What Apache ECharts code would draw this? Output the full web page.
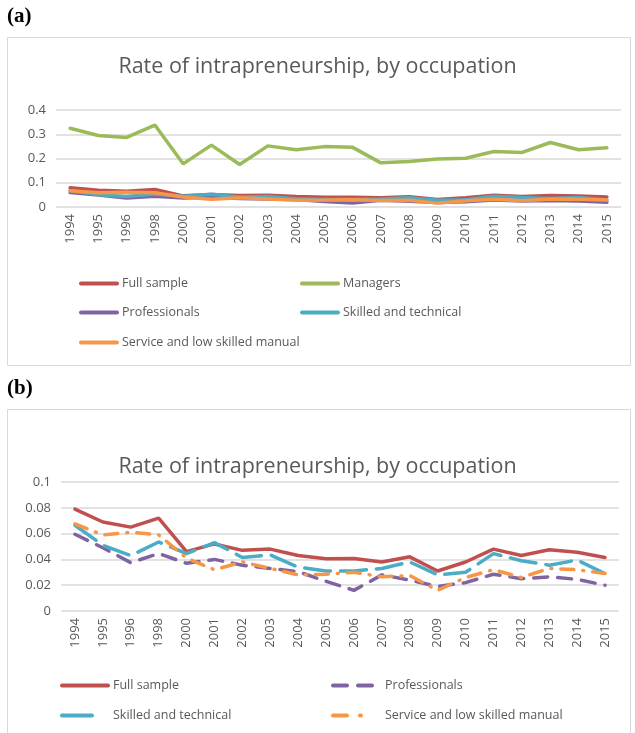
<!DOCTYPE html>
<html><head><meta charset="utf-8">
<script src="https://cdn.jsdelivr.net/npm/echarts@6/dist/echarts.min.js"></script>
<style>html,body{margin:0;padding:0;background:#fff}#c{width:635px;height:733px}</style>
</head><body><div id="c"></div>
<script>
const years = ['1994','1995','1996','1998','2000','2001','2002','2003','2004','2005','2006','2007','2008','2009','2010','2011','2012','2013','2014','2015'];
const fullSample = [0.079,0.069,0.065,0.072,0.046,0.052,0.047,0.048,0.043,0.0405,0.0407,0.038,0.042,0.031,0.038,0.048,0.043,0.0475,0.0455,0.0415];
const managers = [0.325,0.295,0.287,0.338,0.178,0.255,0.175,0.252,0.236,0.249,0.246,0.182,0.188,0.198,0.201,0.229,0.225,0.266,0.236,0.244];
const professionals = [0.0595,0.049,0.0375,0.0445,0.037,0.040,0.0355,0.033,0.0305,0.023,0.016,0.028,0.024,0.019,0.022,0.0285,0.025,0.0265,0.0245,0.020];
const skilled = [0.0665,0.051,0.043,0.0535,0.0445,0.053,0.0415,0.0435,0.034,0.031,0.031,0.033,0.038,0.028,0.030,0.0445,0.039,0.0355,0.0395,0.029];
const service = [0.0675,0.059,0.061,0.059,0.041,0.032,0.038,0.033,0.028,0.0285,0.030,0.0265,0.0275,0.016,0.026,0.032,0.026,0.033,0.032,0.029];
const titleText = 'Rate of intrapreneurship, by occupation';

const C = {full:'#C0504D', man:'#9BBB59', prof:'#8064A2', skill:'#4BACC6', serv:'#F79646'};
const txt = '#595959';
const font = 'Open Sans';
const LW = 3.5;

function xAxis(gi){
  return {type:'category', gridIndex:gi, data:years, boundaryGap:true,
    axisLine:{show:false}, axisTick:{show:false},
    axisLabel:{rotate:90, color:txt, fontFamily:font, fontSize:13, margin:7, interval:0}};
}
function yAxis(gi, max, interval){
  return {type:'value', gridIndex:gi, min:0, max:max, interval:interval,
    axisLine:{show:false}, axisTick:{show:false},
    splitLine:{lineStyle:{color:'#D9D9D9', width:1.5}},
    axisLabel:{color:txt, fontFamily:font, fontSize:13, margin:10,
      formatter:v=>String(+v.toFixed(2))}};
}
function line(name, data, color, gi, dash){
  return {name, type:'line', xAxisIndex:gi, yAxisIndex:gi, data, symbol:'none', smooth:false,
    lineStyle:{color, width:LW, type:dash||'solid', cap:'round'}, itemStyle:{color}, z:2};
}
function leg(name, left, top, iw, color, dash){
  return {data:[name], left, top, padding:0, itemWidth:iw, itemHeight:14, itemGap:0,
    selectedMode:false, itemStyle:{opacity:0},
    lineStyle:{color:color, width:4, type:dash||'solid', cap:'round', opacity:1},
    textStyle:{color:txt, fontFamily:font, fontSize:12.5, padding:[0,0,0,0]}};
}

const option = {
  animation:false,
  title:[
    {text:titleText, left:'center', top:51, textStyle:{color:txt, fontFamily:font, fontSize:21.5, fontWeight:'normal'}},
    {text:titleText, left:'center', top:451, textStyle:{color:txt, fontFamily:font, fontSize:21.5, fontWeight:'normal'}}
  ],
  graphic:[
    {type:'rect', shape:{x:7.5, y:37.5, width:623, height:328}, style:{fill:'none', stroke:'#D9D9D9', lineWidth:1}},
    {type:'rect', shape:{x:7.5, y:409.5, width:623, height:340}, style:{fill:'none', stroke:'#D9D9D9', lineWidth:1}},
    {type:'text', left:7, top:6, style:{text:'(a)', font:'bold 21px "Liberation Serif"', fill:'#000'}},
    {type:'text', left:7, top:378, style:{text:'(b)', font:'bold 21px "Liberation Serif"', fill:'#000'}}
  ],
  grid:[
    {left:56, width:565, top:110, height:97},
    {left:61, width:558, top:482, height:129}
  ],
  xAxis:[xAxis(0), xAxis(1)],
  yAxis:[yAxis(0,0.4,0.1), yAxis(1,0.1,0.02)],
  legend:[
    leg('Full sample', 79, 277, 36, C.full),
    leg('Managers', 300, 277, 36, C.man),
    leg('Professionals', 79, 306, 36, C.prof),
    leg('Skilled and technical', 300, 306, 36, C.skill),
    leg('Service and low skilled manual', 79, 336, 36, C.serv),
    leg('Full sample', 60, 679, 46, C.full),
    leg('Professionals', 331, 679, 47, C.prof, [14,11]),
    leg('Skilled and technical', 60, 709, 46, C.skill, [30,20]),
    leg('Service and low skilled manual', 331, 709, 47, C.serv, [14,13,1,30])
  ],
  series:[
    line('Full sample', fullSample, C.full, 0),
    line('Managers', managers, C.man, 0),
    line('Professionals', professionals, C.prof, 0),
    line('Skilled and technical', skilled, C.skill, 0),
    line('Service and low skilled manual', service, C.serv, 0),
    line('Full sample', fullSample, C.full, 1),
    line('Professionals', professionals, C.prof, 1, [14,10]),
    line('Skilled and technical', skilled, C.skill, 1, [26,10]),
    line('Service and low skilled manual', service, C.serv, 1, [13,9,1,9])
  ]
};
const chart = echarts.init(document.getElementById('c'), null, {renderer:'canvas'});
chart.setOption(option);
</script></body></html>
